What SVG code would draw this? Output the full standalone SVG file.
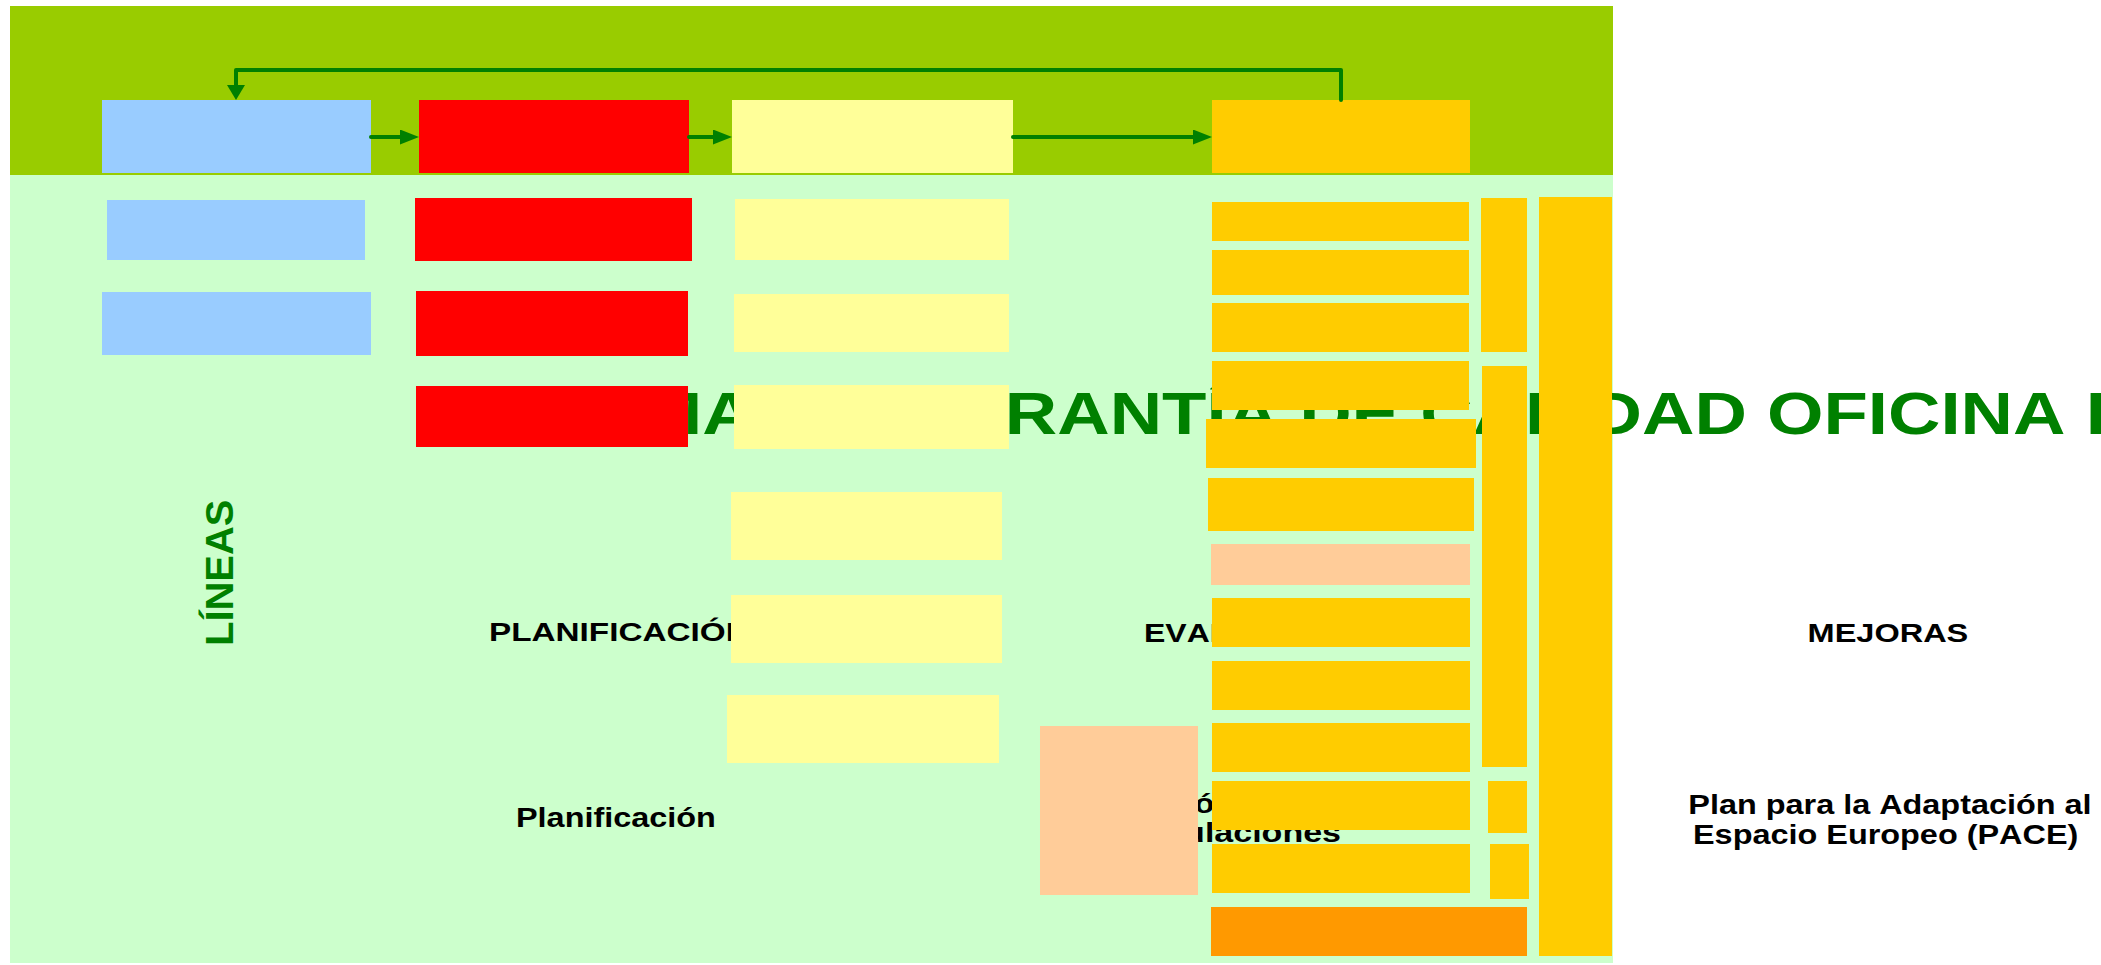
<svg xmlns="http://www.w3.org/2000/svg" width="2101" height="965" viewBox="0 0 2101 965">
<defs>
<style>
text { font-family: "Liberation Sans", Arial, sans-serif; font-weight: bold; font-kerning: none; }
.title { font-size: 60px; fill: #008000; }
.vert { font-size: 39px; fill: #008000; }
.head { font-size: 26px; fill: #000000; }
.item { font-size: 27px; fill: #000000; }
.blue { fill: #99CCFF; }
.red { fill: #FF0000; }
.yel { fill: #FFFF99; }
.org { fill: #FFCC00; }
.peach { fill: #FFCC99; }
.dorg { fill: #FF9900; }
.conn { fill: none; stroke: #008000; stroke-width: 4; stroke-linecap: round; stroke-linejoin: round; }
</style>
<marker id="ah" markerUnits="userSpaceOnUse" viewBox="0 0 19 15" refX="9" refY="7.5" markerWidth="19" markerHeight="15" orient="auto"><path d="M0,0 L19,7.5 L0,15 z" fill="#008000"/></marker>
<marker id="av" markerUnits="userSpaceOnUse" viewBox="0 0 15 18" refX="5" refY="9" markerWidth="15" markerHeight="18" orient="auto"><path d="M0,0 L15,9 L0,18 z" fill="#008000"/></marker>
</defs>
<rect x="0" y="0" width="2101" height="965" fill="#FFFFFF"/>
<g id="background">
<rect x="10" y="6" width="1603" height="169" fill="#99CC00"/>
<rect x="10" y="175" width="1603" height="788" fill="#CCFFCC"/>
</g>
<g id="labels">
<text class="title" x="432" y="434" textLength="1754.5" lengthAdjust="spacingAndGlyphs">SISTEMA DE GARANTÍA DE CALIDAD OFICINA DE</text>
<text class="vert" transform="translate(233,646) rotate(-90)" x="0" y="0" textLength="146.5" lengthAdjust="spacingAndGlyphs">LÍNEAS</text>
<text class="head" x="489" y="641" textLength="260.7" lengthAdjust="spacingAndGlyphs">PLANIFICACIÓN</text>
<text class="head" x="1144" y="642" textLength="211.4" lengthAdjust="spacingAndGlyphs">EVALUACIÓN</text>
<text class="head" x="1807.6" y="642" textLength="160.7" lengthAdjust="spacingAndGlyphs">MEJORAS</text>
<text class="item" x="516" y="827" textLength="199.9" lengthAdjust="spacingAndGlyphs">Planificación</text>
<text class="item" x="1063" y="813" textLength="217.9" lengthAdjust="spacingAndGlyphs">Evaluación de</text>
<text class="item" x="1152" y="842" textLength="189" lengthAdjust="spacingAndGlyphs">titulaciones</text>
<text class="item" x="1688.3" y="814" textLength="403.3" lengthAdjust="spacingAndGlyphs">Plan para la Adaptación al</text>
<text class="item" x="1693" y="844" textLength="385.3" lengthAdjust="spacingAndGlyphs">Espacio Europeo (PACE)</text>
</g>
<g id="col-lineas">
<rect id="b1" class="blue" x="102" y="100" width="269" height="73"/>
<rect id="b2" class="blue" x="107" y="200" width="258" height="60"/>
<rect id="b3" class="blue" x="102" y="292" width="269" height="63"/>
</g>
<g id="col-planificacion">
<rect id="r1" class="red" x="419" y="100" width="270" height="73"/>
<rect id="r2" class="red" x="415" y="198" width="277" height="63"/>
<rect id="r3" class="red" x="416" y="291" width="272" height="65"/>
<rect id="r4" class="red" x="416" y="386" width="272" height="61"/>
</g>
<g id="col-desarrollo">
<rect id="y1" class="yel" x="732" y="100" width="281" height="73"/>
<rect id="y2" class="yel" x="735" y="199" width="274" height="61"/>
<rect id="y3" class="yel" x="734" y="294" width="275" height="58"/>
<rect id="y4" class="yel" x="734" y="385" width="275" height="64"/>
<rect id="y5" class="yel" x="731" y="492" width="271" height="68"/>
<rect id="y6" class="yel" x="731" y="595" width="271" height="68"/>
<rect id="y7" class="yel" x="727" y="695" width="272" height="68"/>
</g>
<g id="col-evaluacion">
<rect id="o1" class="org" x="1212" y="100" width="258" height="73"/>
<rect id="o2" class="org" x="1212" y="202" width="257" height="39"/>
<rect id="o3" class="org" x="1212" y="250" width="257" height="45"/>
<rect id="o4" class="org" x="1212" y="303" width="257" height="49"/>
<rect id="o5" class="org" x="1212" y="361" width="257" height="49"/>
<rect id="o6" class="org" x="1206" y="419" width="270" height="49"/>
<rect id="o7" class="org" x="1208" y="478" width="266" height="53"/>
<rect id="p1" class="peach" x="1211" y="544" width="259" height="41"/>
<rect id="o8" class="org" x="1212" y="598" width="258" height="49"/>
<rect id="o9" class="org" x="1212" y="661" width="258" height="49"/>
<rect id="o10" class="org" x="1212" y="723" width="258" height="49"/>
<rect id="o11" class="org" x="1212" y="781" width="258" height="49"/>
<rect id="o12" class="org" x="1212" y="844" width="258" height="49"/>
<rect id="o13" class="dorg" x="1211" y="907" width="316" height="49"/>
<rect id="n1" class="org" x="1481" y="198" width="46" height="154"/>
<rect id="n2" class="org" x="1482" y="366" width="45" height="401"/>
<rect id="s1" class="org" x="1488" y="781" width="39" height="52"/>
<rect id="s2" class="org" x="1490" y="844" width="39" height="55"/>
<rect id="t1" class="org" x="1539" y="197" width="73" height="759"/>
<rect id="pb" class="peach" x="1040" y="726" width="158" height="169"/>
</g>
<g id="connectors">
<path class="conn" d="M371,137 H409" marker-end="url(#ah)"/>
<path class="conn" d="M689,137 H722" marker-end="url(#ah)"/>
<path class="conn" d="M1013,137 H1202" marker-end="url(#ah)"/>
<path class="conn" d="M1341,100 V70 H236 V90" marker-end="url(#av)"/>
</g>
</svg>
